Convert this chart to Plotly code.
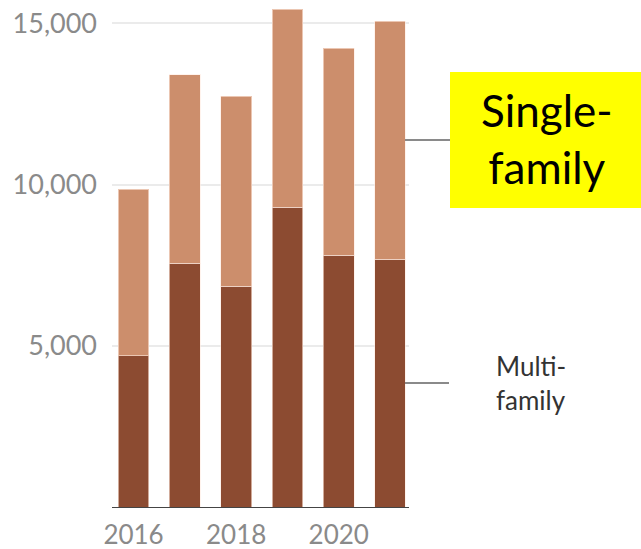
import plotly.graph_objects as go

years = [2016, 2017, 2018, 2019, 2020, 2021]
multi_family = [4690, 7560, 6850, 9300, 7800, 7680]
single_family = [5160, 5850, 5880, 6130, 6430, 7380]
y_ticks = [5000, 10000, 15000]
y_tick_text = ["5,000", "10,000", "15,000"]
x_ticks = [2016, 2018, 2020]

W, H = 641, 549
ml, mr, mt, mb = 112, 232, 5, 42
pw, ph = W - ml - mr, H - mt - mb

def px_x(x):
    return (x - ml) / pw

def px_y(y):
    return (H - mb - y) / ph

fig = go.Figure()
fig.add_trace(go.Bar(x=years, y=multi_family, name="Multi-family", width=0.6,
                     marker=dict(color="#8C4B31", line=dict(color="rgba(255,235,225,0.6)", width=1))))
fig.add_trace(go.Bar(x=years, y=single_family, name="Single-family", width=0.6,
                     marker=dict(color="#CC8E6C", line=dict(color="rgba(255,235,225,0.6)", width=1))))

fig.update_layout(
    barmode="stack",
    width=W, height=H,
    margin=dict(l=ml, r=mr, t=mt, b=mb, autoexpand=False),
    plot_bgcolor="white", paper_bgcolor="white",
    showlegend=False,
    font=dict(family="Lato, sans-serif", color="#8a8a8a", size=26),
    xaxis=dict(range=[2015.58, 2021.37], tickvals=x_ticks, ticktext=[str(v) for v in x_ticks],
               showgrid=False, showline=True, linecolor="#444", linewidth=1,
               ticks="", tickfont=dict(size=26, color="#8a8a8a"), ticklabelstandoff=5,
               automargin=False),
    yaxis=dict(range=[0, 15566], tickvals=y_ticks, ticktext=y_tick_text,
               showgrid=True, gridcolor="#ebebeb", gridwidth=2, zeroline=False,
               showline=False, ticks="", tickfont=dict(size=27, color="#8a8a8a"),
               ticklabelstandoff=14, automargin=False),
)

# yellow label box
fig.add_shape(type="rect", xref="paper", yref="paper",
              x0=px_x(450), x1=px_x(641), y0=px_y(208), y1=px_y(72),
              fillcolor="#FFFF00", line=dict(width=0), layer="above")
fig.add_shape(type="line", xref="paper", yref="paper",
              x0=px_x(405), x1=px_x(450), y0=px_y(140), y1=px_y(140),
              line=dict(color="#8a8a8a", width=2))
fig.add_shape(type="line", xref="paper", yref="paper",
              x0=px_x(405), x1=px_x(449), y0=px_y(383), y1=px_y(383),
              line=dict(color="#8a8a8a", width=2))

fig.add_annotation(xref="paper", yref="paper", x=px_x(547), y=px_y(138),
                   text="Single-<br>family", showarrow=False, align="center",
                   font=dict(family="Lato, sans-serif", size=44, color="#000"),
                   xanchor="center", yanchor="middle")
fig.add_annotation(xref="paper", yref="paper", x=px_x(494), y=px_y(383),
                   text="Multi-<br>family", showarrow=False, align="left",
                   font=dict(family="Lato, sans-serif", size=26, color="#333"),
                   xanchor="left", yanchor="middle")

fig.write_html("out.html", post_script="document.body.style.margin='0';",
               config={"displayModeBar": False})
